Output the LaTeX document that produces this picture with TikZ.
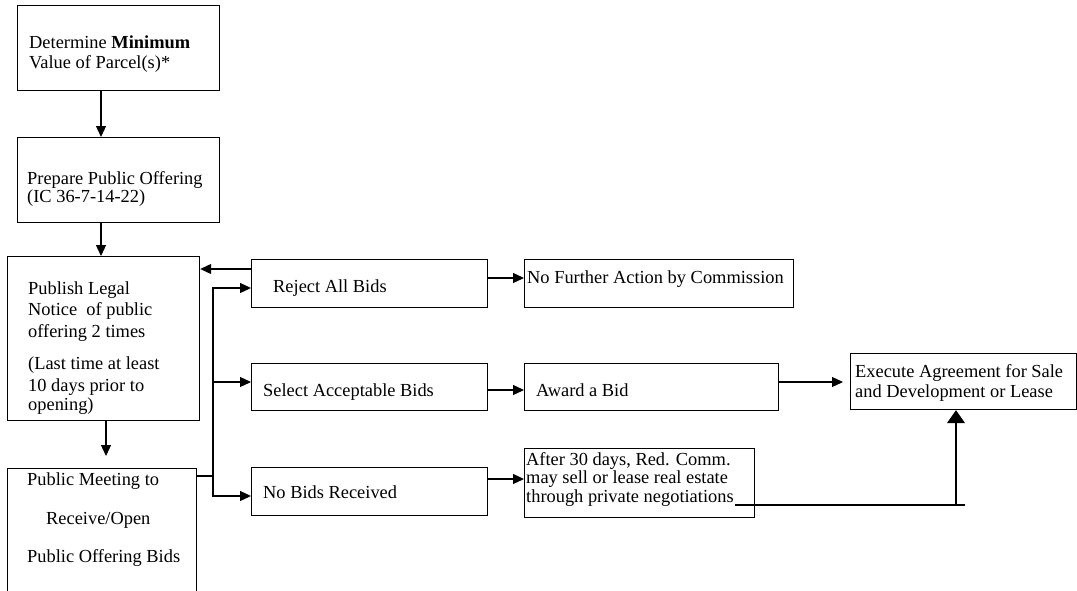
\documentclass[tikz,border=0pt]{standalone}
\usepackage{fontspec}
\setmainfont{Liberation Serif}
\usetikzlibrary{arrows.meta}
\begin{document}
\begin{tikzpicture}[x=1pt,y=-1pt,
  box/.style={draw, line width=1.2pt, inner sep=0pt, anchor=north west},
  txt/.style={inner sep=0pt, anchor=base west, font=\fontsize{18.4}{21}\selectfont},
  conn/.style={line width=1.2pt},
  arr/.style={line width=1.2pt, -{Triangle[length=11pt,width=10pt]}},
  bigarr/.style={line width=1.2pt, -{Triangle[length=13pt,width=18pt]}}]
\useasboundingbox (0,0) rectangle (1077,590);
% boxes
\node[box, minimum width=202pt, minimum height=85pt] (b1) at (17,5) {};
\node[box, minimum width=202pt, minimum height=85pt] (b2) at (17,137) {};
\node[box, minimum width=192pt, minimum height=164pt] (b3) at (7,256) {};
\node[box, minimum width=189pt, minimum height=135pt] (b4) at (7,468) {};
\node[box, minimum width=236pt, minimum height=48pt] (rej) at (251,259) {};
\node[box, minimum width=236pt, minimum height=47pt] (sel) at (251,363) {};
\node[box, minimum width=236pt, minimum height=48pt] (nob) at (251,467) {};
\node[box, minimum width=269pt, minimum height=48pt] (nfa) at (524,259) {};
\node[box, minimum width=254pt, minimum height=47pt] (awd) at (524,363) {};
\node[box, minimum width=230pt, minimum height=69pt] (aft) at (524,448) {};
\node[box, minimum width=226pt, minimum height=56pt] (exe) at (850,353) {};
% texts
\node[txt] (t1a) at (29,48) {Determine \textbf{Minimum}};
\node[txt] (t1b) at (29,68) {Value of Parcel(s)*};
\node[txt] (t2a) at (27,184) {Prepare Public Offering};
\node[txt] (t2b) at (27,202) {(IC 36-7-14-22)};
\node[txt] (t3a) at (28,294) {Publish Legal};
\node[txt] (t3b) at (28,315) {Notice \ of public};
\node[txt] (t3c) at (28,337) {offering 2 times};
\node[txt] (t3d) at (28,369) {(Last time at least};
\node[txt] (t3e) at (28,391) {10 days prior to};
\node[txt] (t3f) at (28,410) {opening)};
\node[txt] (t4a) at (27,485) {Public Meeting to};
\node[txt] (t4b) at (46,524) {Receive/Open};
\node[txt] (t4c) at (27,562) {Public Offering Bids};
\node[txt] (trej) at (273,292) {Reject All Bids};
\node[txt] (tsel) at (263,396) {Select Acceptable Bids};
\node[txt] (tnob) at (263,498) {No Bids Received};
\node[txt] (tnfa) at (527,283) {No Further Action by Commission};
\node[txt] (tawd) at (536,396) {Award a Bid};
\node[txt] (tafa) at (526,465) {After 30 days, Red. Comm.};
\node[txt] (tafb) at (526,483) {may sell or lease real estate};
\node[txt] (tafc) at (526,502) {through private negotiations};
\node[txt] (texa) at (855,377) {Execute Agreement for Sale};
\node[txt] (texb) at (855,397) {and Development or Lease};
% connectors
\draw[arr] ([xshift=84pt]b1.south west) -- ([xshift=84pt]b2.north west);
\draw[arr] ([xshift=84pt]b2.south west) -- ([xshift=94pt]b3.north west);
\draw[arr] ([xshift=99pt]b3.south west) -- ([xshift=99pt,yshift=12pt]b4.north west);
\coordinate (bus) at (213,476);
\draw[conn] ([yshift=-8pt]b4.north east) -- (bus);
\draw[arr] (bus) |- ([yshift=-29pt]rej.north west);
\draw[arr] (bus) |- ([yshift=-19pt]sel.north west);
\draw[arr] (bus) |- ([yshift=-29pt]nob.north west);
\coordinate (r1) at ([yshift=-10pt]rej.north west);
\draw[arr] (r1) -- (r1 -| b3.east);
\coordinate (r2) at ([yshift=-19pt]rej.north east);
\draw[arr] (r2) -- (r2 -| nfa.west);
\coordinate (s2) at ([yshift=-27pt]sel.north east);
\draw[arr] (s2) -- (s2 -| awd.west);
\coordinate (a2) at ([yshift=-19pt]awd.north east);
\draw[arr, shorten >=7pt] (a2) -- (a2 -| exe.west);
\coordinate (n2) at ([yshift=-12pt]nob.north east);
\draw[arr] (n2) -- (n2 -| aft.west);
\coordinate (u1) at (735,505);
\coordinate (u2) at (965,505);
\coordinate (up) at (956,505);
\draw[conn] (u1) -- (u2);
\draw[bigarr] (up) -- (up |- exe.south);
\end{tikzpicture}
\end{document}
